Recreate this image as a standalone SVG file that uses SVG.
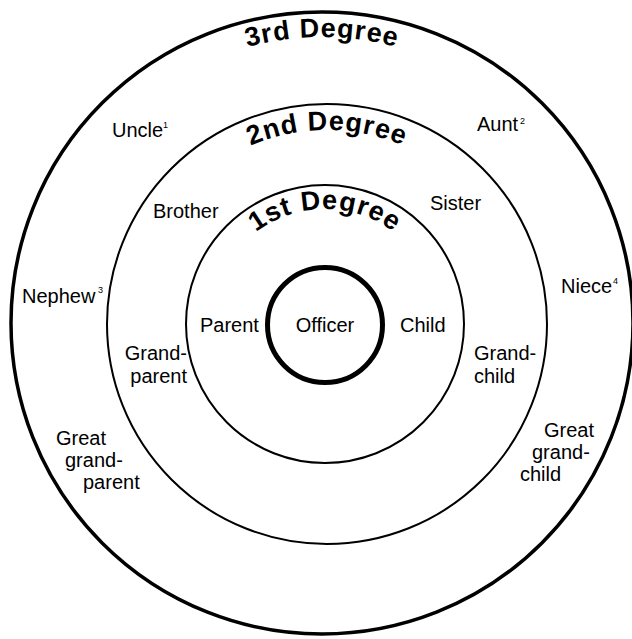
<svg xmlns="http://www.w3.org/2000/svg" width="632" height="639" viewBox="0 0 632 639">
<style>
.ring{fill:none;stroke:#000;stroke-width:2}
.lbl{font-family:"Liberation Sans",Arial,sans-serif;font-size:20px;fill:#000}
.sup{font-family:"Liberation Sans",Arial,sans-serif;font-size:9px;fill:#000}
.deg{font-family:"Liberation Sans",Arial,sans-serif;font-size:27px;font-weight:bold;fill:#000;letter-spacing:1px}
</style>
<defs>
<path id="arc3" d="M 36 323 A 286 286 0 0 1 608 323"/>
<path id="arc2" d="M 133 324 A 194 194 0 0 1 521 324"/>
<path id="arc1" d="M 210 324 A 115 115 0 0 1 440 324"/>
</defs>
<rect width="632" height="639" fill="#fff"/>
<g id="rings">
<g id="third-degree"><circle cx="322" cy="323" r="311" class="ring" style="stroke-width:3.5"/>
<text class="deg"><textPath href="#arc3" startOffset="50%" text-anchor="middle">3rd Degree</textPath></text></g>
<g id="second-degree"><circle cx="327" cy="324" r="220" class="ring"/>
<text class="deg"><textPath href="#arc2" startOffset="50%" text-anchor="middle">2nd Degree</textPath></text></g>
<g id="first-degree"><circle cx="325" cy="324" r="139" class="ring"/>
<text class="deg"><textPath href="#arc1" startOffset="50%" text-anchor="middle">1st Degree</textPath></text></g>
<g id="officer"><circle cx="325" cy="325" r="57.5" class="ring" style="stroke-width:5"/>
<text class="lbl" x="325" y="332" text-anchor="middle">Officer</text></g>
</g>
<g id="labels">
<g id="uncle"><text class="lbl" x="112" y="137">Uncle</text><text class="sup" x="163" y="128">1</text></g>
<g id="aunt"><text class="lbl" x="477" y="131">Aunt</text><text class="sup" x="520" y="124">2</text></g>
<g id="brother"><text class="lbl" x="153" y="218">Brother</text></g>
<g id="sister"><text class="lbl" x="430" y="210">Sister</text></g>
<g id="nephew"><text class="lbl" x="22" y="303">Nephew</text><text class="sup" x="98" y="293">3</text></g>
<g id="niece"><text class="lbl" x="561" y="293">Niece</text><text class="sup" x="613" y="284">4</text></g>
<g id="parent"><text class="lbl" x="200" y="332">Parent</text></g>
<g id="child"><text class="lbl" x="400" y="332">Child</text></g>
<g id="grandparent"><text class="lbl" x="187" y="360" text-anchor="end">Grand-</text><text class="lbl" x="187" y="383" text-anchor="end">parent</text></g>
<g id="grandchild"><text class="lbl" x="474" y="360">Grand-</text><text class="lbl" x="474" y="383">child</text></g>
<g id="greatgrandparent"><text class="lbl" x="56" y="445">Great</text><text class="lbl" x="65" y="467">grand-</text><text class="lbl" x="83" y="489">parent</text></g>
<g id="greatgrandchild"><text class="lbl" x="544" y="437">Great</text><text class="lbl" x="532" y="459">grand-</text><text class="lbl" x="520" y="481">child</text></g>
</g>
</svg>
